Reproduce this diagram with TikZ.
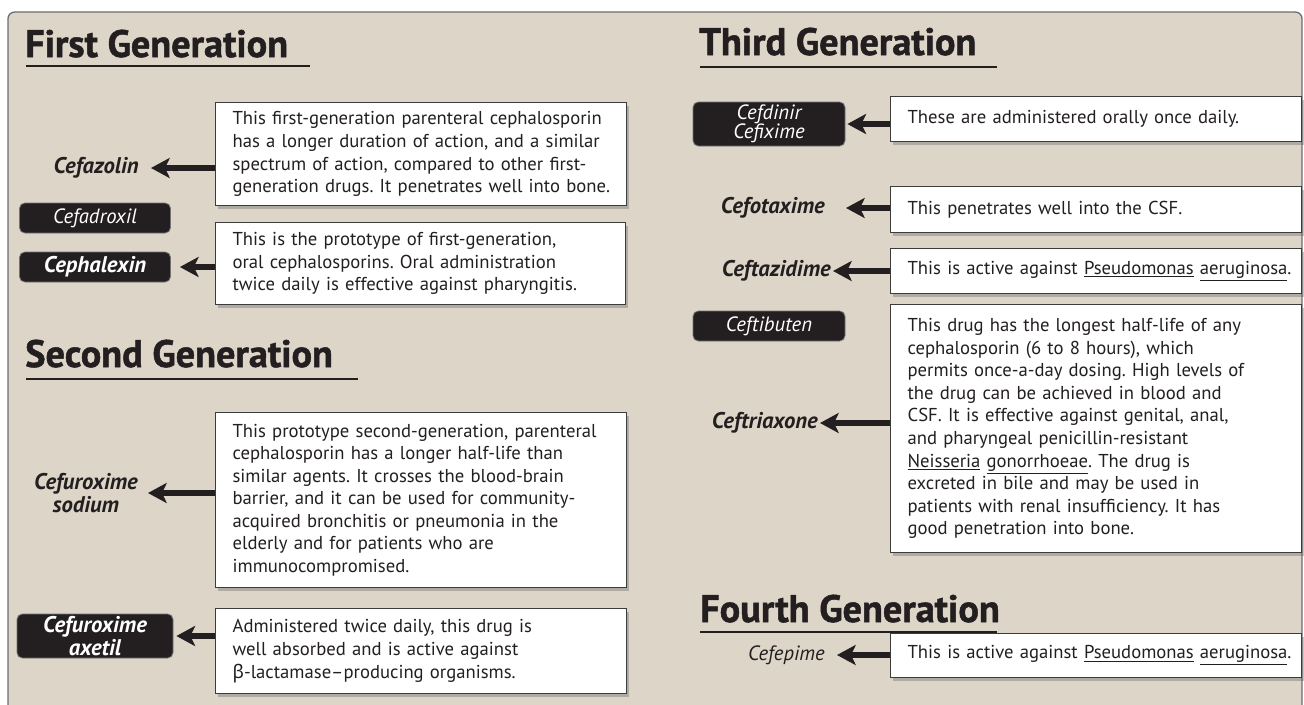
\documentclass[tikz,border=0pt]{standalone}
\usepackage{fontspec}
\setmainfont{PT Sans}
\newfontfamily\headfont[BoldFeatures={FakeBold=1.3}]{PT Sans}
\newfontfamily\grk{Noto Sans}
\usetikzlibrary{arrows.meta,shadows}
\definecolor{bg}{RGB}{220,213,200}
\definecolor{lblk}{RGB}{35,31,32}
\definecolor{bord}{RGB}{60,60,60}
\definecolor{framec}{RGB}{110,110,110}
\definecolor{txt}{RGB}{35,31,32}
\frenchspacing
\begin{document}
\begin{tikzpicture}[x=0.75pt,y=-0.75pt,
 heading/.style={anchor=base west, inner sep=0pt, font=\fontsize{28.7}{32}\selectfont\headfont\bfseries, text=txt},
 hrule/.style={line width=1.7pt, draw=txt},
 desc/.style={draw=bord, fill=white, line width=0.9pt, anchor=north west, inner xsep=0pt, inner ysep=0pt,
   align=left, font=\fontsize{14}{16.9}\selectfont, text=txt,
   execute at begin node={\frenchspacing\leftskip=12.75pt\rightskip=-40pt plus 1fil\relax},
   drop shadow={shadow xshift=2pt, shadow yshift=-2.5pt, opacity=0.3, fill=black!70}},
 drug/.style={inner sep=0pt, anchor=east, align=center, font=\fontsize{17}{14}\selectfont\bfseries\itshape, text=txt},
 pill/.style={fill=lblk, draw=black!55, line width=0.6pt, rounded corners=4pt, text=white, align=center,
   inner sep=0pt, font=\fontsize{15.5}{14.5}\selectfont\itshape},
 pillb/.style={pill, font=\fontsize{17}{14.5}\selectfont\bfseries\itshape},
 arr/.style={draw=lblk, line width=4.8pt, -{Stealth[length=14pt,width=15pt,inset=3.5pt]}},
]
\useasboundingbox (0,0) rectangle (1304,704);
\clip (0,0) rectangle (1304,704);
\fill[white] (0,0) rectangle (1304,704);
\draw[rounded corners=5pt, fill=bg, draw=framec, line width=1pt] (8,12) rectangle (1302,740);

% headings
\node[heading] (h1) at (25,57) {First Generation};
\draw[hrule] (26,66) -- (310,66);
\node[heading] (h2) at (25,367) {Second Generation};
\draw[hrule] (26,379) -- (358,379);
\node[heading] (h3) at (699,55) {Third Generation};
\draw[hrule] (700,67) -- (997,67);
\node[heading] (h4) at (700,622) {Fourth Generation};
\draw[hrule] (700,632) -- (997,632);

% description boxes
\node[desc, text width=411*0.75pt, minimum height=103*0.75pt] (b1) at (215,102) {This first-generation parenteral cephalosporin\\ has a longer duration of action, and a similar\\ spectrum of action, compared to other first-\\ generation drugs. It penetrates well into bone.};
\node[desc, text width=410*0.75pt, minimum height=82*0.75pt] (b2) at (215,222) {This is the prototype of first-generation,\\ oral cephalosporins. Oral administration\\ twice daily is effective against pharyngitis.};
\node[desc, text width=411*0.75pt, minimum height=175*0.75pt] (b3) at (215,412) {This prototype second-generation, parenteral\\ cephalosporin has a longer half-life than\\ similar agents. It crosses the blood-brain\\ barrier, and it can be used for community-\\ acquired bronchitis or pneumonia in the\\ elderly and for patients who are\\ immunocompromised.};
\node[desc, text width=411*0.75pt, minimum height=85*0.75pt] (b4) at (215,608) {Administered twice daily, this drug is\\ well absorbed and is active against\\ {\grk β}-lactamase--producing organisms.};
\node[desc, text width=411*0.75pt, minimum height=45*0.75pt] (b5) at (890,96) {These are administered orally once daily.};
\node[desc, text width=411*0.75pt, minimum height=46*0.75pt] (b6) at (890,186) {This penetrates well into the CSF.};
\node[desc, text width=411*0.75pt, minimum height=45*0.75pt] (b7) at (890,248) {This is active against \underline{Pseudomonas} \underline{aeruginosa}.};
\node[desc, text width=411*0.75pt, minimum height=248*0.75pt] (b8) at (890,304) {This drug has the longest half-life of any\\ cephalosporin (6 to 8 hours), which\\ permits once-a-day dosing. High levels of\\ the drug can be achieved in blood and\\ CSF. It is effective against genital, anal,\\ and pharyngeal penicillin-resistant\\ \underline{Neisseria} \underline{gonorrhoeae}. The drug is\\ excreted in bile and may be used in\\ patients with renal insufficiency. It has\\ good penetration into bone.};
\node[desc, text width=411*0.75pt, minimum height=44*0.75pt] (b9) at (890,633) {This is active against \underline{Pseudomonas} \underline{aeruginosa}.};

% drug labels
\node[drug] (cefazolin) at (139,168) {Cefazolin};
\node[pill, minimum width=151*0.75pt, minimum height=30*0.75pt] (cefadroxil) at (95,218) {Cefadroxil};
\node[pillb, minimum width=151*0.75pt, minimum height=30*0.75pt] (cephalexin) at (95,267) {Cephalexin};
\node[drug] (cefsod) at (138,493) {Cefuroxime\\sodium};
\node[pillb, minimum width=156*0.75pt, minimum height=44*0.75pt] (cefax) at (95,636) {Cefuroxime\\axetil};
\node[pill, minimum width=152*0.75pt, minimum height=44*0.75pt] (cefdinir) at (769,124) {Cefdinir\\Cefixime};
\node[drug] (cefotaxime) at (825,208) {Cefotaxime};
\node[drug] (ceftazidime) at (831,271) {Ceftazidime};
\node[pill, minimum width=152*0.75pt, minimum height=30*0.75pt] (ceftibuten) at (769,326) {Ceftibuten};
\node[drug] (ceftriaxone) at (818,423) {Ceftriaxone};
\node[drug, font=\fontsize{15.5}{14}\selectfont\itshape] (cefepime) at (825,655) {Cefepime};

% arrows
\draw[arr, shorten >=9pt] (cefazolin.east -| b1.west) -- (cefazolin.east);
\draw[arr, shorten >=6.75pt] (cephalexin.east -| b2.west) -- (cephalexin.east);
\draw[arr, shorten >=7.5pt] (cefsod.east -| b3.west) -- (cefsod.east);
\draw[arr, shorten >=2.25pt] (cefax.east -| b4.west) -- (cefax.east);
\draw[arr, shorten >=1.5pt] (cefdinir.east -| b5.west) -- (cefdinir.east);
\draw[arr, shorten >=15.75pt] (cefotaxime.east -| b6.west) -- (cefotaxime.east);
\draw[arr, shorten >=1.5pt] (ceftazidime.east -| b7.west) -- (ceftazidime.east);
\draw[arr, shorten >=1.5pt] (ceftriaxone.east -| b8.west) -- (ceftriaxone.east);
\draw[arr, shorten >=9pt] (cefepime.east -| b9.west) -- (cefepime.east);
\end{tikzpicture}
\end{document}
